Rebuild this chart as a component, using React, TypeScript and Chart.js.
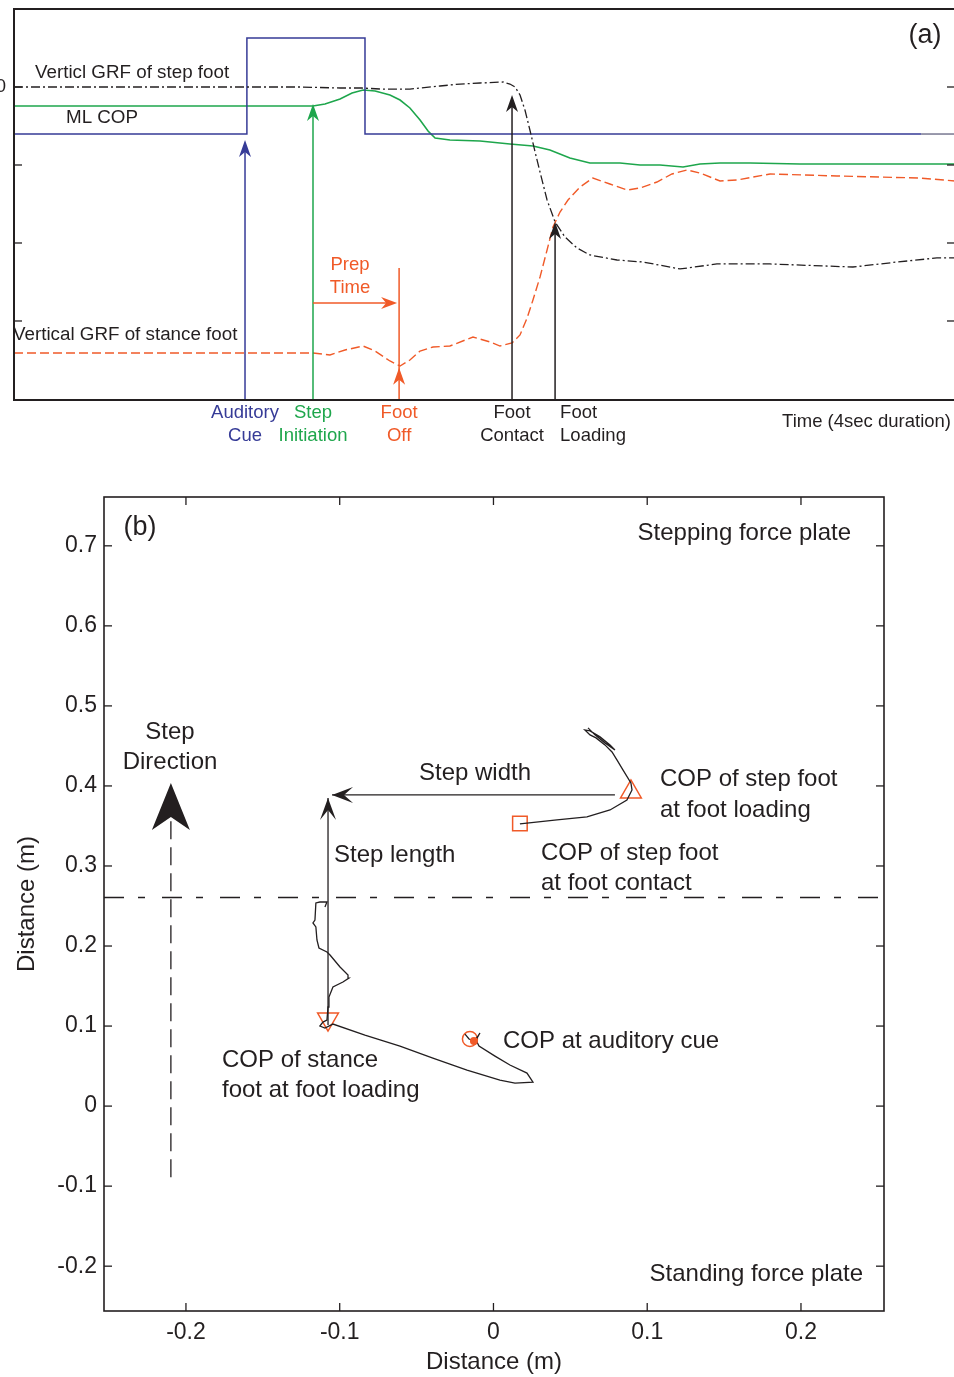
import React, { useEffect, useRef } from 'react';
import { Chart, registerables } from 'chart.js';

Chart.register(...registerables);

const FONT = "'Liberation Sans', Arial, Helvetica, sans-serif";
const INK = '#231f20';
const BLUE = '#363b97';
const GREEN = '#1ea64c';
const RED = '#f05a28';

type P = [number, number];

// ---------------- Panel (a): time (s, 4 s window) vs signal (0 = step-foot GRF level) ----------------
const auditoryCue: P[] = [[0, -0.603], [0.99, -0.603], [0.99, 0.628], [1.492, 0.628], [1.492, -0.603], [3.856, -0.603]];
const auditoryCueTail: P[] = [[3.856, -0.603], [4, -0.603]];

const mlCop: P[] = [
  [0, -0.244], [1.271, -0.244], [1.322, -0.218], [1.386, -0.154], [1.437, -0.077], [1.484, -0.038],
  [1.535, -0.051], [1.598, -0.103], [1.641, -0.167], [1.683, -0.269], [1.726, -0.423], [1.76, -0.564],
  [1.79, -0.654], [1.853, -0.679], [1.981, -0.692], [2.108, -0.731], [2.206, -0.756], [2.278, -0.808],
  [2.363, -0.91], [2.448, -0.974], [2.576, -0.974], [2.661, -1.0], [2.746, -1.0], [2.844, -1.026],
  [2.916, -0.987], [3.001, -0.974], [3.129, -0.974], [3.341, -0.987], [4, -0.987],
];

const grfStepFoot: P[] = [
  [0, 0], [1.216, 0], [1.386, -0.013], [1.479, -0.013], [1.556, -0.026], [1.683, -0.026], [1.811, 0.013],
  [1.896, 0.038], [1.981, 0.051], [2.079, 0.064], [2.108, 0.038], [2.13, 0], [2.151, -0.103],
  [2.172, -0.295], [2.193, -0.551], [2.215, -0.833], [2.236, -1.09], [2.266, -1.449], [2.3, -1.731],
  [2.342, -1.923], [2.393, -2.064], [2.448, -2.154], [2.563, -2.218], [2.674, -2.244], [2.831, -2.333],
  [2.988, -2.269], [3.214, -2.269], [3.566, -2.308], [3.754, -2.244], [3.923, -2.192], [4, -2.192],
];

const grfStanceFoot: P[] = [
  [0, -3.41], [1.271, -3.41], [1.343, -3.436], [1.407, -3.372], [1.484, -3.321], [1.535, -3.385],
  [1.598, -3.513], [1.641, -3.577], [1.683, -3.5], [1.726, -3.385], [1.781, -3.333], [1.853, -3.321],
  [1.951, -3.205], [2.023, -3.269], [2.066, -3.321], [2.117, -3.282], [2.151, -3.179], [2.181, -2.962],
  [2.206, -2.731], [2.236, -2.436], [2.266, -2.09], [2.291, -1.795], [2.321, -1.603], [2.355, -1.449],
  [2.406, -1.282], [2.461, -1.167], [2.533, -1.244], [2.606, -1.321], [2.661, -1.295], [2.733, -1.218],
  [2.797, -1.115], [2.861, -1.064], [2.916, -1.103], [3.001, -1.205], [3.073, -1.192], [3.214, -1.115],
  [3.498, -1.141], [3.851, -1.167], [4, -1.205],
];

const topYTicks = [0, -1, -2, -3];
const prepTime: P[] = [[1.271, -2.769], [1.637, -2.769]];

type Ev = { name: string[]; t: number; tip: number; top?: number; color: string; align: 'center' | 'left' };
const events: Ev[] = [
  { name: ['Auditory', 'Cue'], t: 0.982, tip: -0.679, color: BLUE, align: 'center' },
  { name: ['Step', 'Initiation'], t: 1.271, tip: -0.218, color: GREEN, align: 'center' },
  { name: ['Foot', 'Off'], t: 1.637, tip: -3.6, top: -2.321, color: RED, align: 'center' },
  { name: ['Foot', 'Contact'], t: 2.117, tip: -0.103, color: INK, align: 'center' },
  { name: ['Foot', 'Loading'], t: 2.3, tip: -1.731, color: INK, align: 'left' },
];

// ---------------- Panel (b): COP trajectories on the two force plates (m) ----------------
const bXTicks = [-0.2, -0.1, 0, 0.1, 0.2];
const bYTicks = [-0.2, -0.1, 0, 0.1, 0.2, 0.3, 0.4, 0.5, 0.6, 0.7];
const bXRange: P = [-0.2533, 0.254];
const bYRange: P = [-0.256, 0.761];

const stanceCop: P[] = [
  [-0.0185, 0.09], [-0.0159, 0.0838], [-0.0127, 0.0813], [-0.0101, 0.0875], [-0.0088, 0.0913],
  [-0.0114, 0.0825], [-0.0094, 0.075], [0.001, 0.0625], [0.0107, 0.0513], [0.0218, 0.0413],
  [0.0257, 0.03], [0.014, 0.0288], [0.0042, 0.0325], [-0.0172, 0.045], [-0.0394, 0.06],
  [-0.0608, 0.075], [-0.0836, 0.0888], [-0.1044, 0.1025], [-0.1096, 0.0975], [-0.1129, 0.1],
  [-0.1109, 0.105], [-0.1083, 0.1075], [-0.1076, 0.1238], [-0.107, 0.1363], [-0.1044, 0.1488],
  [-0.0979, 0.155], [-0.094, 0.16], [-0.0946, 0.1638], [-0.0998, 0.1738], [-0.1063, 0.1888],
  [-0.1083, 0.1925], [-0.1135, 0.1975], [-0.1148, 0.2075], [-0.1155, 0.2238], [-0.1174, 0.2288],
  [-0.1161, 0.2325], [-0.1155, 0.2538], [-0.1129, 0.255], [-0.1083, 0.255], [-0.1096, 0.2488],
];

const stepCop: P[] = [
  [0.0172, 0.3525], [0.0413, 0.3575], [0.0608, 0.3613], [0.0758, 0.37], [0.0868, 0.3825],
  [0.0901, 0.395], [0.0894, 0.4038], [0.0842, 0.42], [0.0803, 0.4325], [0.0771, 0.4425],
  [0.0725, 0.4513], [0.0667, 0.46], [0.0628, 0.4638], [0.0595, 0.47], [0.0628, 0.4688],
  [0.0693, 0.4613], [0.0758, 0.4513], [0.079, 0.445], [0.0725, 0.4538], [0.066, 0.4638], [0.0615, 0.4725],
];

const copAuditory: P = [-0.0153, 0.0838];
const copAuditoryDot: P = [-0.0127, 0.0813];
const copStanceLoading: P = [-0.1076, 0.1088];
const copStepContact: P = [0.0172, 0.353];
const copStepLoading: P = [0.0894, 0.3925];

const plateBoundaryY = 0.2606;
const stepDirection: P[] = [[-0.2098, -0.0888], [-0.2098, 0.3613]];
const stepDirectionTip: P = [-0.2098, 0.4038];
const stepWidth: P[] = [[0.079, 0.3888], [-0.105, 0.3888]];
const stepLength: P[] = [[-0.1076, 0.1013], [-0.1076, 0.385]];

// ---------------- helpers ----------------
const xy = (arr: P[]) => arr.map(([x, y]) => ({ x, y }));

function arrowHead(ctx: CanvasRenderingContext2D, tx: number, ty: number, ang: number, len: number, hw: number, notch: number, color: string) {
  const dx = Math.cos(ang), dy = Math.sin(ang);
  const bx = tx - dx * len, by = ty - dy * len;
  const nx = tx - dx * notch, ny = ty - dy * notch;
  const px = -dy, py = dx;
  ctx.beginPath();
  ctx.moveTo(tx, ty);
  ctx.lineTo(bx + px * hw, by + py * hw);
  ctx.lineTo(nx, ny);
  ctx.lineTo(bx - px * hw, by - py * hw);
  ctx.closePath();
  ctx.fillStyle = color;
  ctx.fill();
}

function text(ctx: CanvasRenderingContext2D, s: string, x: number, y: number, size: number, color: string, align: CanvasTextAlign = 'left') {
  ctx.font = `${size}px ${FONT}`;
  ctx.fillStyle = color;
  ctx.textAlign = align;
  ctx.textBaseline = 'middle';
  ctx.fillText(s, x, y);
}

function seg(ctx: CanvasRenderingContext2D, x1: number, y1: number, x2: number, y2: number) {
  ctx.beginPath();
  ctx.moveTo(x1, y1);
  ctx.lineTo(x2, y2);
  ctx.stroke();
}

const lineDs = (data: P[], color: string, width: number, dash: number[] = []) => ({
  data: xy(data), showLine: true, borderColor: color, borderWidth: width, borderDash: dash,
  pointRadius: 0, fill: false, tension: 0,
});

const topDecor = {
  id: 'topDecor',
  afterDatasetsDraw(chart: any) {
    const { ctx, chartArea: a, scales } = chart;
    const X = (t: number) => scales.x.getPixelForValue(t);
    const Y = (v: number) => scales.y.getPixelForValue(v);
    ctx.save();
    ctx.setLineDash([]);
    // event markers
    for (const e of events) {
      const x = X(e.t);
      ctx.strokeStyle = e.color;
      ctx.lineWidth = 1.5;
      seg(ctx, x, a.bottom, x, e.top !== undefined ? Y(e.top) : Y(e.tip) + 8);
      arrowHead(ctx, x, Y(e.tip), -Math.PI / 2, 17, 6, 12, e.color);
      const lx = e.align === 'left' ? x + 5 : x;
      text(ctx, e.name[0], lx, a.bottom + 13, 18.5, e.color, e.align);
      text(ctx, e.name[1], lx, a.bottom + 36, 18.5, e.color, e.align);
    }
    // prep time arrow
    const py = Y(prepTime[0][1]);
    const px1 = X(prepTime[0][0]);
    const px2 = X(prepTime[1][0]) - 2;
    ctx.strokeStyle = RED;
    ctx.lineWidth = 1.5;
    seg(ctx, px1, py, px2 - 8, py);
    arrowHead(ctx, px2, py, 0, 16, 6, 11, RED);
    text(ctx, 'Prep', (px1 + px2) / 2 - 5, py - 38, 18.5, RED, 'center');
    text(ctx, 'Time', (px1 + px2) / 2 - 5, py - 15, 18.5, RED, 'center');
    // frame
    ctx.strokeStyle = INK;
    ctx.lineWidth = 2;
    ctx.strokeRect(a.left, a.top, a.right - a.left, a.bottom - a.top);
    ctx.lineWidth = 1.3;
    for (const v of topYTicks) {
      const y = Y(v);
      seg(ctx, a.left, y, a.left + 8, y);
      seg(ctx, a.right - 8, y, a.right, y);
    }
    text(ctx, '0', a.left - 8, Y(0), 18.5, INK, 'right');
    // labels
    text(ctx, 'Verticl GRF of step foot', 35, 73, 18.8, INK);
    text(ctx, 'ML COP', 66, 118, 18.8, INK);
    text(ctx, 'Vertical GRF of stance foot', 13, 335, 18.8, INK);
    text(ctx, '(a)', 925, 36, 27, INK, 'center');
    text(ctx, 'Time (4sec duration)', 951, 422, 18.5, INK, 'right');
    ctx.restore();
  },
};

const BOT_TOP = 455;

const botDecor = {
  id: 'botDecor',
  afterDatasetsDraw(chart: any) {
    const { ctx, chartArea: a, scales } = chart;
    const X = (t: number) => scales.x.getPixelForValue(t);
    const Y = (v: number) => scales.y.getPixelForValue(v);
    ctx.save();
    ctx.setLineDash([]);
    // arrowheads
    arrowHead(ctx, X(stepDirectionTip[0]), Y(stepDirectionTip[1]), -Math.PI / 2, 47, 19, 34, INK);
    arrowHead(ctx, X(stepWidth[1][0]), Y(stepWidth[1][1]), Math.PI, 21, 8, 12, INK);
    arrowHead(ctx, X(stepLength[1][0]), Y(stepLength[1][1]), -Math.PI / 2, 22, 8, 12, INK);
    // frame + inward ticks
    ctx.strokeStyle = INK;
    ctx.lineWidth = 1.6;
    ctx.strokeRect(a.left, a.top, a.right - a.left, a.bottom - a.top);
    ctx.lineWidth = 1.3;
    for (const v of bXTicks) {
      const x = X(v);
      seg(ctx, x, a.bottom, x, a.bottom - 8);
      seg(ctx, x, a.top, x, a.top + 8);
    }
    for (const v of bYTicks) {
      const y = Y(v);
      seg(ctx, a.left, y, a.left + 8, y);
      seg(ctx, a.right, y, a.right - 8, y);
    }
    // annotations (page coordinates shifted to this canvas)
    const o = BOT_TOP;
    const s = 24;
    text(ctx, '(b)', 140, 528 - o, 27, INK, 'center');
    text(ctx, 'Stepping force plate', 851, 533 - o, s, INK, 'right');
    text(ctx, 'Standing force plate', 863, 1274 - o, s, INK, 'right');
    text(ctx, 'Step', 170, 732 - o, s, INK, 'center');
    text(ctx, 'Direction', 170, 762 - o, s, INK, 'center');
    text(ctx, 'Step width', 475, 773 - o, s, INK, 'center');
    text(ctx, 'Step length', 334, 855 - o, s, INK);
    text(ctx, 'COP of step foot', 660, 779 - o, s, INK);
    text(ctx, 'at foot loading', 660, 810 - o, s, INK);
    text(ctx, 'COP of step foot', 541, 853 - o, s, INK);
    text(ctx, 'at foot contact', 541, 883 - o, s, INK);
    text(ctx, 'COP at auditory cue', 503, 1041 - o, s, INK);
    text(ctx, 'COP of stance', 222, 1060 - o, s, INK);
    text(ctx, 'foot at foot loading', 222, 1090 - o, s, INK);
    // auditory-cue COP dot on top
    ctx.beginPath();
    ctx.arc(X(copAuditoryDot[0]), Y(copAuditoryDot[1]), 4, 0, Math.PI * 2);
    ctx.fillStyle = RED;
    ctx.fill();
    ctx.restore();
  },
};

const fmt = (v: number | string) => String(Math.round(Number(v) * 10) / 10);

export default function App() {
  const topRef = useRef<HTMLCanvasElement>(null);
  const botRef = useRef<HTMLCanvasElement>(null);

  useEffect(() => {
    const top = new Chart(topRef.current as HTMLCanvasElement, {
      type: 'scatter',
      data: {
        datasets: [
          lineDs(grfStanceFoot, RED, 1.4, [9, 4]),
          lineDs(grfStepFoot, INK, 1.3, [9, 3, 2, 3]),
          lineDs(auditoryCue, BLUE, 1.5),
          lineDs(auditoryCueTail, '#35355a', 1),
          lineDs(mlCop, GREEN, 1.6),
        ] as any,
      },
      options: {
        animation: false,
        responsive: false,
        devicePixelRatio: 1,
        events: [],
        layout: { padding: { left: 14, top: 9, right: 5, bottom: 55 } },
        plugins: { legend: { display: false }, tooltip: { enabled: false } },
        scales: {
          x: { type: 'linear', display: false, min: 0, max: 4 },
          y: { type: 'linear', display: false, min: -4.013, max: 1 },
        },
      } as any,
      plugins: [topDecor],
    });

    const tickFont = { size: 23, family: FONT };
    const bot = new Chart(botRef.current as HTMLCanvasElement, {
      type: 'scatter',
      data: {
        datasets: [
          lineDs([[bXRange[0], plateBoundaryY], [bXRange[1], plateBoundaryY]], INK, 1.3, [20, 14, 7, 17]),
          lineDs(stepDirection, INK, 1.3, [18, 8]),
          lineDs(stepWidth, INK, 1.3),
          lineDs(stepLength, INK, 1.3),
          lineDs(stanceCop, INK, 1.3),
          lineDs(stepCop, INK, 1.3),
          { data: xy([copAuditory]), showLine: false, pointStyle: 'circle', pointRadius: 7.5, borderColor: RED, borderWidth: 1.5, backgroundColor: 'rgba(0,0,0,0)' },
          { data: xy([copStanceLoading]), showLine: false, pointStyle: 'triangle', rotation: 180, pointRadius: 12, borderColor: RED, borderWidth: 1.5, backgroundColor: 'rgba(0,0,0,0)' },
          { data: xy([copStepLoading]), showLine: false, pointStyle: 'triangle', pointRadius: 12, borderColor: RED, borderWidth: 1.5, backgroundColor: 'rgba(0,0,0,0)' },
          { data: xy([copStepContact]), showLine: false, pointStyle: 'rect', pointRadius: 10.3, borderColor: RED, borderWidth: 1.5, backgroundColor: 'rgba(0,0,0,0)' },
        ] as any,
      },
      options: {
        animation: false,
        responsive: false,
        devicePixelRatio: 1,
        events: [],
        layout: { padding: { left: 0, top: 42, right: 70, bottom: 0 } },
        plugins: { legend: { display: false }, tooltip: { enabled: false } },
        scales: {
          x: {
            type: 'linear', min: bXRange[0], max: bXRange[1],
            grid: { display: false, drawTicks: false }, border: { display: false },
            ticks: { font: tickFont, color: INK, padding: 8, callback: fmt, maxRotation: 0, autoSkip: false },
            afterBuildTicks: (s: any) => { s.ticks = bXTicks.map((value) => ({ value })); },
            afterFit: (s: any) => { s.height = 66; },
            title: { display: true, text: 'Distance (m)', color: INK, font: { size: 24, family: FONT }, padding: { top: 0, bottom: 0 } },
          },
          y: {
            type: 'linear', min: bYRange[0], max: bYRange[1],
            grid: { display: false, drawTicks: false }, border: { display: false },
            ticks: { font: tickFont, color: INK, padding: 7, callback: fmt, autoSkip: false },
            afterBuildTicks: (s: any) => { s.ticks = bYTicks.map((value) => ({ value })); },
            afterFit: (s: any) => { s.width = 104; },
            title: { display: true, text: 'Distance (m)', color: INK, font: { size: 24, family: FONT }, padding: { top: 13, bottom: 0 } },
          },
        },
      } as any,
      plugins: [botDecor],
    });

    return () => { top.destroy(); bot.destroy(); };
  }, []);

  return (
    <div style={{ position: 'absolute', left: 0, top: 0, width: 954, height: 1377, overflow: 'hidden', background: '#fff' }}>
      <canvas ref={topRef} width={960} height={455} style={{ position: 'absolute', left: 0, top: 0, width: 960, height: 455 }} />
      <canvas ref={botRef} width={954} height={922} style={{ position: 'absolute', left: 0, top: BOT_TOP, width: 954, height: 922 }} />
    </div>
  );
}
